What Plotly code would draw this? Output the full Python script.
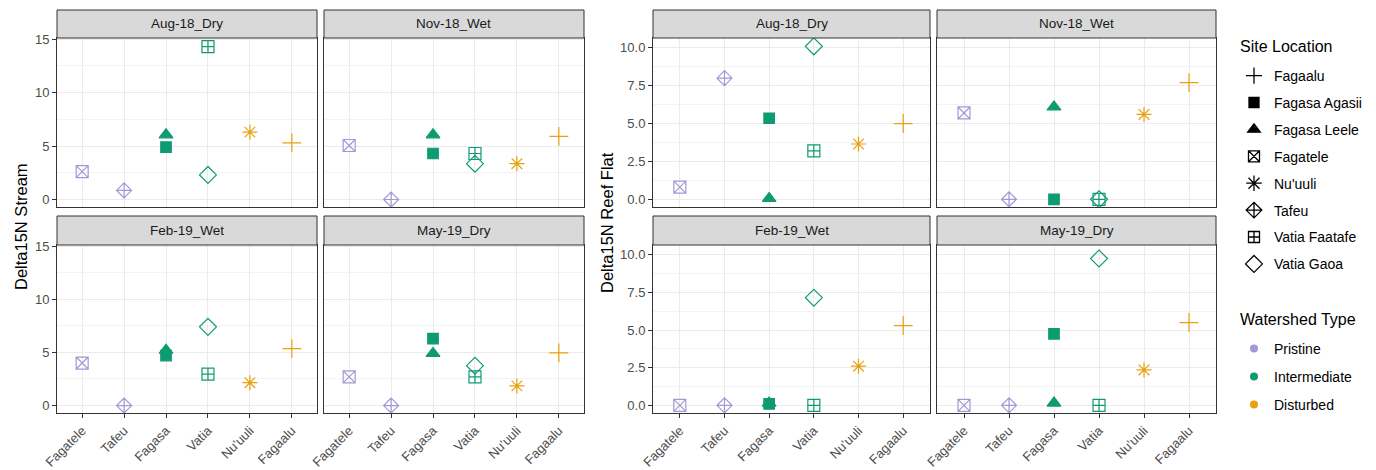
import plotly.graph_objects as go

# Sampling sites (legend order) and the watershed each one belongs to
sites = ["Fagaalu", "Fagasa Agasii", "Fagasa Leele", "Fagatele", "Nu'uuli",
         "Tafeu", "Vatia Faatafe", "Vatia Gaoa"]
site_village = ["Fagaalu", "Fagasa", "Fagasa", "Fagatele", "Nu'uuli",
                "Tafeu", "Vatia", "Vatia"]
site_type = ["Disturbed", "Intermediate", "Intermediate", "Pristine", "Disturbed",
             "Pristine", "Intermediate", "Intermediate"]

# x-axis order of villages
villages = ["Fagatele", "Tafeu", "Fagasa", "Vatia", "Nu'uuli", "Fagaalu"]
seasons = ["Aug-18_Dry", "Nov-18_Wet", "Feb-19_Wet", "May-19_Dry"]
watershed_types = ["Pristine", "Intermediate", "Disturbed"]

# Delta15N in stream samples, per season, in site order
stream_aug18 = [5.3, 4.9, 6.05, 2.6, 6.3, 0.85, 14.3, 2.3]
stream_nov18 = [5.9, 4.3, 6.05, 5.05, 3.35, 0.0, 4.3, 3.35]
stream_feb19 = [5.35, 4.7, 5.2, 4.0, 2.15, 0.0, 2.95, 7.4]
stream_may19 = [4.95, 6.3, 4.9, 2.7, 1.85, 0.0, 2.7, 3.75]

# Delta15N in reef flat samples, per season, in site order
reef_aug18 = [5.0, 5.35, 0.05, 0.8, 3.65, 8.0, 3.2, 10.1]
reef_nov18 = [7.7, 0.0, 6.1, 5.7, 5.6, 0.0, 0.0, 0.0]
reef_feb19 = [5.3, 0.1, 0.15, 0.0, 2.6, 0.0, 0.0, 7.15]
reef_may19 = [5.5, 4.75, 0.15, 0.0, 2.35, 0.0, 0.0, 9.75]

stream = [stream_aug18, stream_nov18, stream_feb19, stream_may19]
reef = [reef_aug18, reef_nov18, reef_feb19, reef_may19]

# ---- styling ----
W, H = 1376, 470
type_color = {"Pristine": "#9E9AD6", "Intermediate": "#0F9B72", "Disturbed": "#E9A010"}
site_symbol = {
    "Fagaalu": "cross-thin-open",
    "Fagasa Agasii": "square",
    "Fagasa Leele": "triangle-up",
    "Fagatele": "square-x-open",
    "Nu'uuli": "asterisk-open",
    "Tafeu": "diamond-cross-open",
    "Vatia Faatafe": "square-cross-open",
    "Vatia Gaoa": "diamond-open",
}
site_size = {
    "Fagaalu": 13.5, "Fagasa Agasii": 10.5, "Fagasa Leele": 12, "Fagatele": 12,
    "Nu'uuli": 12.5, "Tafeu": 11.5, "Vatia Faatafe": 12, "Vatia Gaoa": 13,
}
legend_size = {
    "Fagaalu": 11.5, "Fagasa Agasii": 10, "Fagasa Leele": 11, "Fagatele": 11,
    "Nu'uuli": 13, "Tafeu": 12, "Vatia Faatafe": 11, "Vatia Gaoa": 13,
}
FONT = "Liberation Sans, Arial, sans-serif"
BORDER = "#333333"
GRID = "#EBEBEB"

# panel pixel boxes: (block, col) -> x span ; row -> y span
x_px = {(0, 0): (57, 317), (0, 1): (324, 584), (1, 0): (653, 930), (1, 1): (937, 1216)}
y_px = {0: (38, 207), 1: (245, 413)}
strip_px = {0: (10, 38), 1: (216, 245)}

def px_x(v):
    return v / W

def px_y(v):
    return 1 - v / H

fig = go.Figure()
layout = {}
shapes = []
annotations = []

blocks = [
    dict(data=stream, yrange=[-0.7, 15.1], dtick=5, minor=2.5, fmt=None),
    dict(data=reef, yrange=[-0.51, 10.65], dtick=2.5, minor=1.25, fmt=".1f"),
]

idx = 0
for b, blk in enumerate(blocks):
    for s, season in enumerate(seasons):
        r, c = divmod(s, 2)
        idx += 1
        xa = "x" if idx == 1 else f"x{idx}"
        ya = "y" if idx == 1 else f"y{idx}"
        x0, x1 = x_px[(b, c)]
        y0, y1 = y_px[r]
        layout["xaxis" if idx == 1 else f"xaxis{idx}"] = dict(
            domain=[px_x(x0), px_x(x1)], anchor=ya,
            range=[0.4, 6.6], tickmode="array",
            tickvals=list(range(1, 7)), ticktext=villages,
            showticklabels=(r == 1), ticks="outside" if r == 1 else "",
            ticklen=4, tickcolor=BORDER, tickangle=-45,
            tickfont=dict(family=FONT, size=13, color="#4D4D4D"),
            showgrid=True, gridcolor=GRID, gridwidth=1, zeroline=False,
            showline=True, mirror=True, linecolor=BORDER, linewidth=1,
            automargin=False,
        )
        layout["yaxis" if idx == 1 else f"yaxis{idx}"] = dict(
            domain=[px_y(y1), px_y(y0)], anchor=xa,
            range=blk["yrange"], dtick=blk["dtick"], tick0=0,
            tickformat=blk["fmt"] if blk["fmt"] else "",
            showticklabels=(c == 0), ticks="outside" if c == 0 else "",
            ticklen=4, tickcolor=BORDER,
            tickfont=dict(family=FONT, size=13, color="#4D4D4D"),
            showgrid=True, gridcolor=GRID, gridwidth=1, zeroline=False,
            minor=dict(dtick=blk["minor"], tick0=0, showgrid=True,
                       gridcolor="#F3F3F3", gridwidth=1, ticks=""),
            showline=True, mirror=True, linecolor=BORDER, linewidth=1,
            automargin=False,
        )
        # facet strip
        sy0, sy1 = strip_px[r]
        shapes.append(dict(type="rect", xref="paper", yref="paper",
                           x0=px_x(x0), x1=px_x(x1), y0=px_y(sy1), y1=px_y(sy0),
                           fillcolor="#D9D9D9", line=dict(color=BORDER, width=1),
                           layer="above"))
        annotations.append(dict(text=season, xref="paper", yref="paper",
                                x=px_x((x0 + x1) / 2), y=px_y((sy0 + sy1) / 2),
                                showarrow=False, xanchor="center", yanchor="middle",
                                font=dict(family=FONT, size=13.5, color="#1A1A1A")))
        # points for each site
        vals = blk["data"][s]
        for k, site in enumerate(sites):
            fig.add_trace(go.Scatter(
                x=[villages.index(site_village[k]) + 1], y=[vals[k]],
                xaxis=xa, yaxis=ya, mode="markers", showlegend=False,
                hoverinfo="skip",
                marker=dict(symbol=site_symbol[site], size=site_size[site],
                            color=type_color[site_type[k]],
                            line=dict(color=type_color[site_type[k]], width=1.2)),
            ))

# legend entries: site shapes
for site in sites:
    fig.add_trace(go.Scatter(
        x=[None], y=[None], mode="markers", name=site, legend="legend",
        legendgroup=site,
        marker=dict(symbol=site_symbol[site], size=legend_size[site],
                    color="black", line=dict(color="black", width=1.3)),
    ))
# legend entries: watershed colours
for t in watershed_types:
    fig.add_trace(go.Scatter(
        x=[None], y=[None], mode="markers", name=t, legend="legend2",
        legendgroup=t,
        marker=dict(symbol="circle", size=8, color=type_color[t]),
    ))

# y-axis titles
annotations.append(dict(text="Delta15N Stream", xref="paper", yref="paper",
                        x=px_x(21), y=px_y(227), textangle=-90, showarrow=False,
                        xanchor="center", yanchor="middle",
                        font=dict(family=FONT, size=16.5, color="black")))
annotations.append(dict(text="Delta15N Reef Flat", xref="paper", yref="paper",
                        x=px_x(607), y=px_y(223), textangle=-90, showarrow=False,
                        xanchor="center", yanchor="middle",
                        font=dict(family=FONT, size=16.5, color="black")))
# legend headings
annotations.append(dict(text="Site Location", xref="paper", yref="paper",
                        x=px_x(1238), y=px_y(47), xanchor="left", yanchor="middle",
                        showarrow=False, font=dict(family=FONT, size=16, color="black")))
annotations.append(dict(text="Watershed Type", xref="paper", yref="paper",
                        x=px_x(1238), y=px_y(319), xanchor="left", yanchor="middle",
                        showarrow=False, font=dict(family=FONT, size=16, color="black")))

layout.update(
    width=W, height=H, margin=dict(l=0, r=0, t=0, b=0, autoexpand=False),
    paper_bgcolor="white", plot_bgcolor="white",
    shapes=shapes, annotations=annotations,
    legend=dict(xref="container", yref="container",
                x=px_x(1234), y=px_y(60), xanchor="left", yanchor="top",
                font=dict(family=FONT, size=14, color="black"),
                tracegroupgap=5.7, bgcolor="rgba(0,0,0,0)"),
    legend2=dict(xref="container", yref="container",
                 x=px_x(1234), y=px_y(333), xanchor="left", yanchor="top",
                 font=dict(family=FONT, size=14, color="black"),
                 tracegroupgap=6.8, bgcolor="rgba(0,0,0,0)"),
)
fig.update_layout(layout)
fig.write_html("out.html")
